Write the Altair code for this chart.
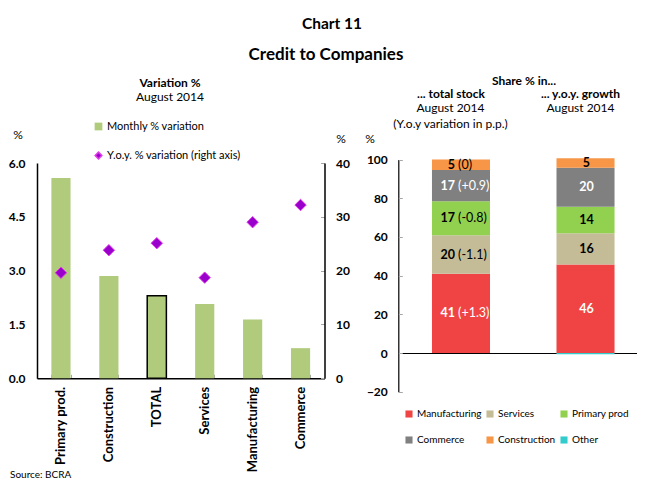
import altair as alt
import pandas as pd

FONT = "Lato"

# ---- Left chart: Variation % (August 2014)
sectors = ["Primary prod.", "Construction", "TOTAL", "Services", "Manufacturing", "Commerce"]
monthly_var = [5.58, 2.85, 2.30, 2.07, 1.64, 0.84]
yoy_var = [19.6, 23.8, 25.1, 18.7, 29.0, 32.2]
left_ticks = [0.0, 1.5, 3.0, 4.5, 6.0]
right_ticks = [0, 10, 20, 30, 40]

# ---- Right chart: Share % in ...
share_bars = ["... total stock", "... y.o.y. growth"]
share_sectors = ["Manufacturing", "Services", "Primary prod", "Commerce", "Construction", "Other"]
stock_share = [40.9, 19.9, 17.6, 16.2, 5.4, 0.0]
growth_share = [45.7, 16.2, 13.7, 20.2, 4.9, -0.7]
stock_num = ["41", "20", "17", "17", "5", ""]
stock_pp = ["(+1.3)", "(-1.1)", "(-0.8)", "(+0.9)", "(0)", ""]
growth_num = ["46", "16", "14", "20", "5", ""]
share_colors = ["#F04444", "#C4BC96", "#92D050", "#808080", "#F79646", "#33CCCC"]
share_ticks = [-20, 0, 20, 40, 60, 80, 100]

W, H = 629, 471
TICK_GRAY = "#A6A6A6"

left_df = pd.DataFrame({
    "sector": sectors,
    "monthly": monthly_var,
    "yoy": yoy_var,
    "s1": ["Monthly % variation"] * len(sectors),
    "s2": ["Y.o.y. % variation (right axis)"] * len(sectors),
})

rows = []
for b, vals, nums, pps in [
    (share_bars[0], stock_share, stock_num, stock_pp),
    (share_bars[1], growth_share, growth_num, [""] * len(share_sectors)),
]:
    for i, s in enumerate(share_sectors):
        rows.append(dict(bar=b, sector=s, value=vals[i], order=i, num=nums[i], pp=pps[i]))
share_df = pd.DataFrame(rows)

# ---------- left chart
xL_scale = alt.Scale(domain=sectors, range=[29, 316.5], paddingInner=0.6, paddingOuter=0.3)
yL_range = [370.3, 155]
yL_scale = alt.Scale(domain=[0, 6], range=yL_range, nice=False)
yR2_scale = alt.Scale(domain=[0, 40], range=yL_range, nice=False)

bars_left = alt.Chart(left_df).mark_bar().encode(
    x=alt.X("sector:N", sort=sectors, scale=xL_scale,
            axis=alt.Axis(orient="bottom", offset=370.3 - H, title=None, labelAngle=-90,
                          labelFontWeight="bold", labelFontSize=13, labelPadding=8,
                          ticks=False, domainColor="black", domainWidth=1.5)),
    y=alt.Y("monthly:Q", scale=yL_scale,
            axis=alt.Axis(orient="left", offset=-29, values=left_ticks, format=".1f", title=None,
                          grid=False, ticks=False, labelPadding=12, labelFontWeight="bold",
                          labelFontSize=12, domainColor="black", domainWidth=1.5)),
    color=alt.Color("s1:N", scale=alt.Scale(range=["#B0CB7C"]),
                    legend=alt.Legend(orient="none", legendX=85, legendY=113, title=None,
                                      symbolType="square", symbolSize=60, labelFontSize=11,
                                      labelOffset=3)),
    stroke=alt.condition("datum.sector == 'TOTAL'", alt.value("black"), alt.value("transparent")),
    strokeWidth=alt.condition("datum.sector == 'TOTAL'", alt.value(1.5), alt.value(0)),
)

# inner tick marks of the left panel (between categories, and inside the right axis)
ticks_left = alt.Chart(left_df).mark_point(opacity=0).encode(
    x=alt.X("sector:N", sort=sectors, scale=xL_scale,
            axis=alt.Axis(orient="top", offset=-370.3, labels=False, domain=False, title=None,
                          ticks=True, tickBand="extent", tickSize=4, tickColor=TICK_GRAY)),
    y=alt.Y("yoy:Q", scale=yR2_scale,
            axis=alt.Axis(orient="left", offset=-316.5, values=right_ticks, labels=False,
                          domain=False, grid=False, title=None, ticks=True, tickSize=4,
                          tickColor=TICK_GRAY)),
)

points_left = alt.Chart(left_df).mark_point(shape="diamond", filled=True, size=130, opacity=1,
                                            stroke="#E23CE6", strokeWidth=1).encode(
    x=alt.X("sector:N", sort=sectors, scale=xL_scale, axis=None),
    y=alt.Y("yoy:Q", scale=yR2_scale,
            axis=alt.Axis(orient="right", offset=316.5 - W, values=right_ticks, format="d", title=None,
                          grid=False, ticks=False, labelPadding=11, labelFontWeight="bold",
                          labelFontSize=12, domainColor="black", domainWidth=1.5)),
    color=alt.Color("s2:N", scale=alt.Scale(range=["#9900CC"]),
                    legend=alt.Legend(orient="none", legendX=85, legendY=142, title=None,
                                      symbolType="diamond", symbolSize=45, labelFontSize=11,
                                      labelOffset=3, symbolStrokeColor="#E23CE6")),
)

# ---------- right chart
xR_scale = alt.Scale(domain=share_bars, range=[390.3, 637], paddingInner=0.534,
                     paddingOuter=0.2575, align=0.525)
yR_scale = alt.Scale(domain=[-20, 100], range=[383.7, 151.5], nice=False, zero=False)

stacked = alt.Chart(share_df).transform_stack(
    stack="value", groupby=["bar"], sort=[alt.SortField("order", order="ascending")], as_=["v0", "v1"]
)

bars_right = stacked.mark_bar().encode(
    x=alt.X("bar:N", sort=share_bars, scale=xR_scale,
            axis=alt.Axis(orient="bottom", offset=345 - H, labels=False, ticks=False, title=None,
                          domainColor="black", domainWidth=1.2)),
    y=alt.Y("v0:Q", scale=yR_scale,
            axis=alt.Axis(orient="left", offset=-390.3, values=share_ticks, title=None, grid=False,
                          ticks=False, labelPadding=11, labelFontWeight="bold", labelFontSize=12,
                          domainColor="black", domainWidth=1.2)),
    y2="v1:Q",
    color=alt.Color("sector:N", scale=alt.Scale(domain=share_sectors, range=share_colors),
                    legend=alt.Legend(orient="none", legendX=396, legendY=401, title=None, columns=3,
                                      direction="horizontal",
                                      symbolType="square", symbolSize=50, labelFontSize=10,
                                      labelOffset=3, rowPadding=16, columnPadding=3)),
)

lab_color = alt.condition("datum.sector == 'Manufacturing' || datum.sector == 'Commerce'",
                          alt.value("white"), alt.value("black"))

labels = stacked.transform_calculate(mid="(datum.v0 + datum.v1) / 2").transform_filter("datum.num != ''")

stock_num_txt = labels.transform_filter(alt.datum.bar == share_bars[0]).mark_text(
    align="right", baseline="middle", dx=-8, fontSize=12.5, fontWeight="bold").encode(
    x=alt.X("bar:N", sort=share_bars, scale=xR_scale, axis=None),
    y=alt.Y("mid:Q", scale=yR_scale, axis=None),
    text="num:N", color=lab_color)

stock_pp_txt = labels.transform_filter(alt.datum.bar == share_bars[0]).mark_text(
    align="left", baseline="middle", dx=-5, fontSize=12.5).encode(
    x=alt.X("bar:N", sort=share_bars, scale=xR_scale, axis=None),
    y=alt.Y("mid:Q", scale=yR_scale, axis=None),
    text="pp:N", color=lab_color)

growth_txt = labels.transform_filter(alt.datum.bar == share_bars[1]).mark_text(
    align="center", baseline="middle", fontSize=12.5, fontWeight="bold").encode(
    x=alt.X("bar:N", sort=share_bars, scale=xR_scale, axis=None),
    y=alt.Y("mid:Q", scale=yR_scale,
            axis=alt.Axis(orient="right", offset=390.3 - W, values=share_ticks, labels=False,
                          domain=False, grid=False, title=None, ticks=True, tickSize=4,
                          tickColor=TICK_GRAY)),
    text="num:N", color=lab_color)

# ---------- header texts
dummy = pd.DataFrame({"d": [0]})


def txt(s, x, y, size=12, bold=False, align="center"):
    return alt.Chart(dummy).mark_text(
        text=s, fontSize=size, fontWeight="bold" if bold else "normal",
        align=align, baseline="middle", color="black"
    ).encode(x=alt.value(x), y=alt.value(y))


texts = [
    txt("Chart 11", 324, 16, 15.5, True),
    txt("Credit to Companies", 318, 47, 17, True),
    txt("Variation %", 162, 74.5, 12, True),
    txt("August 2014", 162, 89, 12),
    txt("%", 10, 127, 12),
    txt("%", 333, 131, 12),
    txt("%", 362, 131, 12),
    txt("Share % in...", 516, 72.5, 12, True),
    txt("... total stock", 443, 85.5, 12, True),
    txt("August 2014", 442.5, 100, 12),
    txt("(Y.o.y variation in p.p.)", 442.5, 115.5, 12),
    txt("... y.o.y. growth", 572.5, 85.5, 12, True),
    txt("August 2014", 572.5, 100, 12),
    txt("Source: BCRA", 2, 466.5, 10, False, "left"),
]

chart = alt.layer(
    ticks_left, bars_left, points_left, bars_right, stock_num_txt, stock_pp_txt, growth_txt, *texts
).resolve_scale(
    x="independent", y="independent", color="independent"
).properties(
    width=W, height=H, padding=0, background="white",
    autosize=alt.AutoSizeParams(type="none"),
).configure_view(stroke=None).configure_axis(
    labelFont=FONT, labelColor="black"
).configure_legend(
    labelFont=FONT, labelColor="black"
).configure_text(font=FONT)

chart.save("out.html", embed_options={"renderer": "svg", "actions": False})
